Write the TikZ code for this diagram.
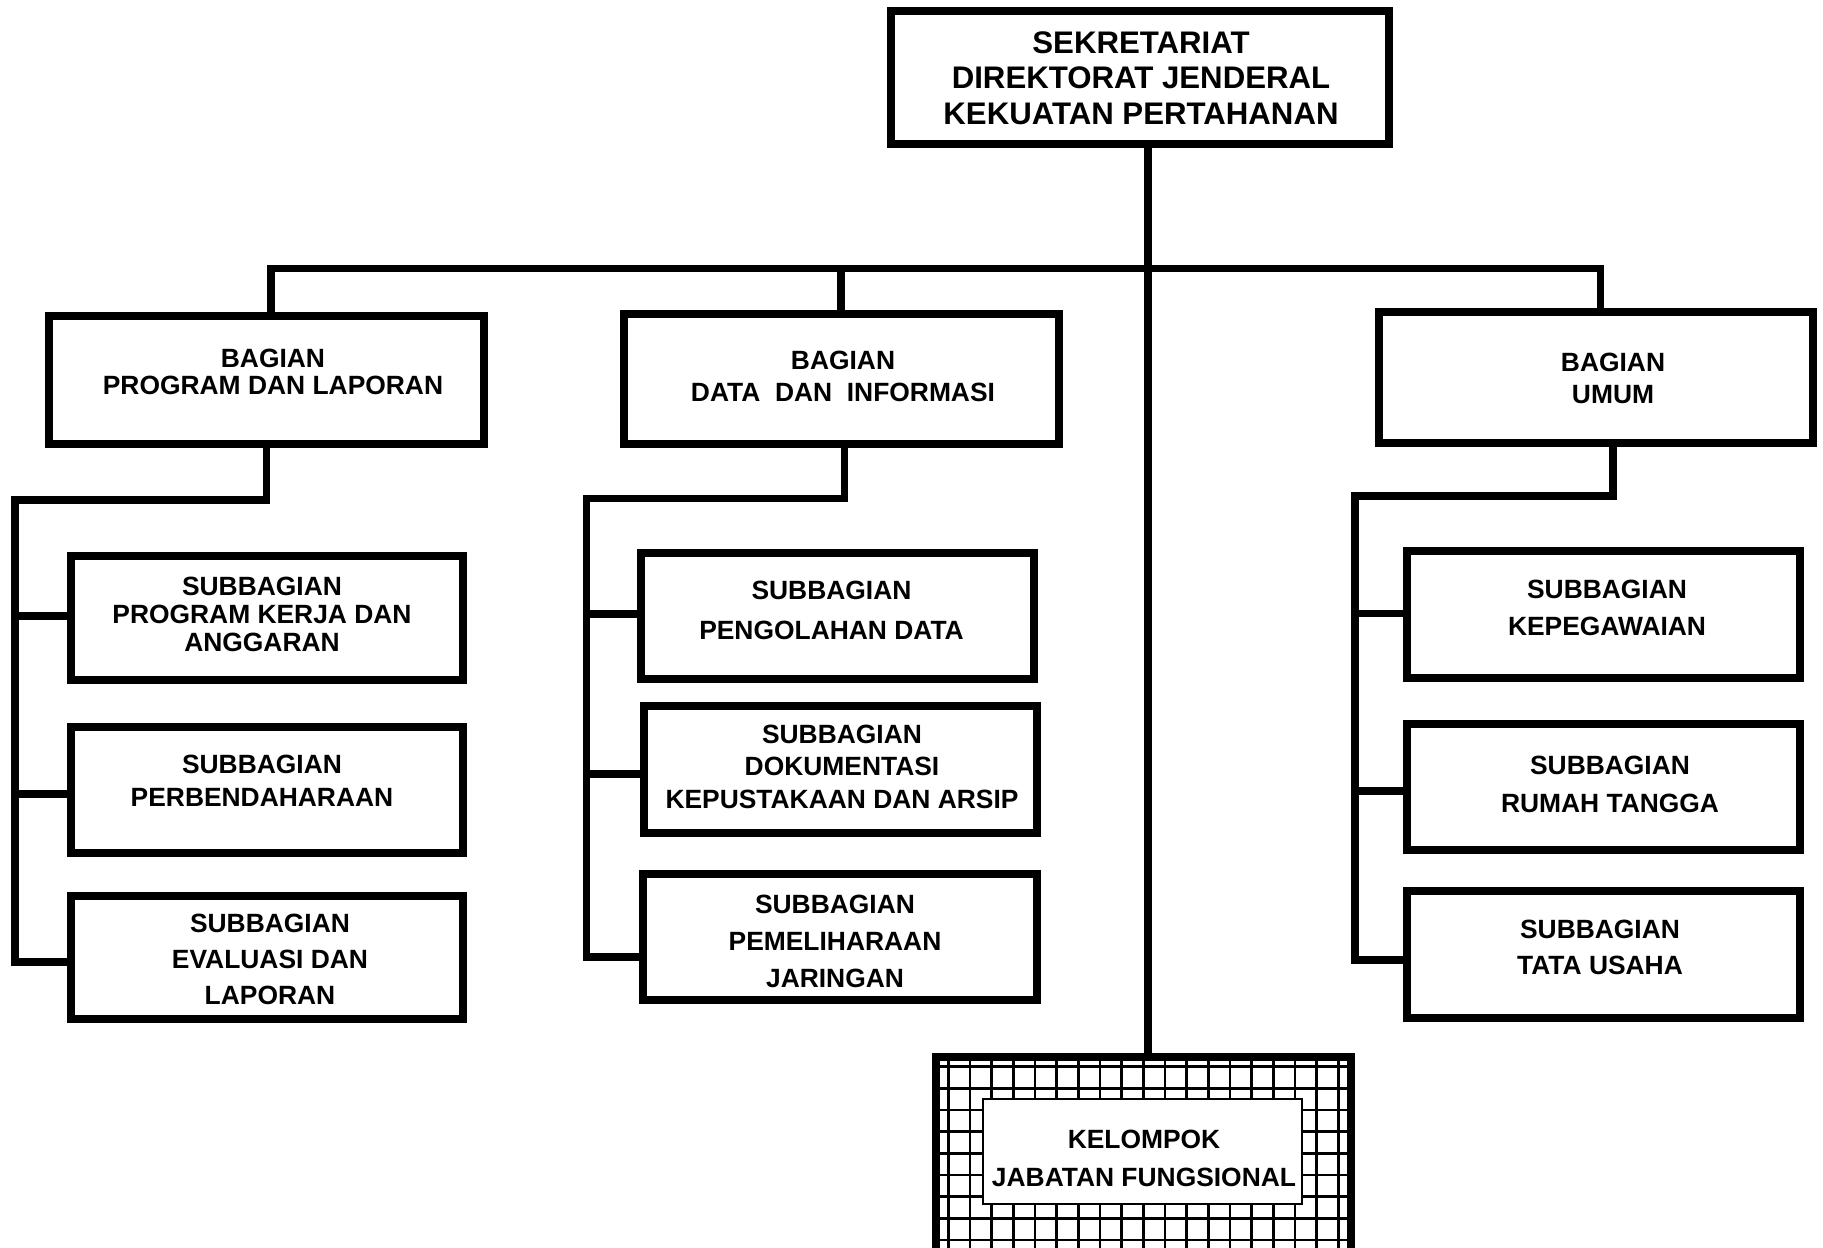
\documentclass[tikz,border=0pt]{standalone}
\usepackage{fontspec}
\setmainfont{Liberation Sans}
\begin{document}
\begin{tikzpicture}[x=0.5pt,y=-0.5pt,
  lw/.style={line width=3.8pt},
  bx/.style 2 args={draw, lw, rectangle, inner sep=0pt, outer sep=0pt,
     minimum width=#1*0.5pt, minimum height=#2*0.5pt},
  tx/.style={font=\fontsize{13.2}{#1}\selectfont\bfseries, align=center, inner sep=0pt},
  ttx/.style={font=\fontsize{15.6}{17.8}\selectfont\bfseries, align=center, inner sep=0pt},
  conn/.style={lw, line join=miter},
  gl/.style={line width=1.3pt}
]
\clip (0,0) rectangle (1823,1247);

% top box
\node[bx={498.4}{133.4}] (T) at (1140,77.5) {};
\node[ttx] (Tt) at (1141,78) {SEKRETARIAT\\DIREKTORAT JENDERAL\\KEKUATAN PERTAHANAN};

% bagian boxes
\node[bx={435.4}{128.4}] (B1) at (266.5,380) {};
\node[tx=13.5] (B1t) at (273,371.5) {BAGIAN\\PROGRAM DAN LAPORAN};
\node[bx={435.4}{130.4}] (B2) at (841.5,379) {};
\node[tx=16] (B2t) at (843,376) {BAGIAN\\DATA\ \ DAN\ \ INFORMASI};
\node[bx={434.4}{131.4}] (B3) at (1596,377.5) {};
\node[tx=16] (B3t) at (1613,378) {BAGIAN\\UMUM};

% left sub boxes
\node[bx={392.4}{124.4}] (S11) at (267,618) {};
\node[tx=14] (S11t) at (262,614.5) {SUBBAGIAN\\PROGRAM KERJA DAN\\ANGGARAN};
\node[bx={392.4}{126.4}] (S12) at (267,790) {};
\node[tx=16.5] (S12t) at (262,781) {SUBBAGIAN\\PERBENDAHARAAN};
\node[bx={392.4}{123.4}] (S13) at (267,957.5) {};
\node[tx=18] (S13t) at (270,959.5) {SUBBAGIAN\\EVALUASI DAN\\LAPORAN};

% middle sub boxes
\node[bx={393.4}{126.4}] (S21) at (837.5,616) {};
\node[tx=19.75] (S21t) at (831.5,610.5) {SUBBAGIAN\\PENGOLAHAN DATA};
\node[bx={393.4}{127.4}] (S22) at (840.5,769.5) {};
\node[tx=16.25] (S22t) at (842,766.5) {SUBBAGIAN\\DOKUMENTASI\\KEPUSTAKAAN DAN ARSIP};
\node[bx={394.4}{126.4}] (S23) at (840,937) {};
\node[tx=18.5] (S23t) at (835,941) {SUBBAGIAN\\PEMELIHARAAN\\JARINGAN};

% right sub boxes
\node[bx={393.4}{127.4}] (S31) at (1603.5,614.5) {};
\node[tx=18.85] (S31t) at (1607,608) {SUBBAGIAN\\KEPEGAWAIAN};
\node[bx={393.4}{126.4}] (S32) at (1603.5,787) {};
\node[tx=18.65] (S32t) at (1610,784.5) {SUBBAGIAN\\RUMAH TANGGA};
\node[bx={393.4}{127.4}] (S33) at (1603.5,954.5) {};
\node[tx=18] (S33t) at (1600,947) {SUBBAGIAN\\TATA USAHA};

% grid box (jabatan fungsional)
\node[bx={415.4}{201.4}] (G) at (1143.5,1157.5) {};
\begin{scope}
  \clip (G.south west) rectangle (G.north east);
  \foreach \i in {0,...,18}
    \draw[gl] (948.3+21.667*\i,1040) -- (948.3+21.667*\i,1270);
  \foreach \j in {0,...,9}
    \draw[gl] (920,1066.7+21.667*\j) -- (1370,1066.7+21.667*\j);
\end{scope}
\node[draw, fill=white, line width=1pt, inner sep=0pt, outer sep=0pt,
      minimum width=159.5pt, minimum height=52.5pt] (K) at (1142.5,1151.5) {};
\node[tx=19] (Kt) at (1144,1158) {KELOMPOK\\JABATAN FUNGSIONAL};

% connector coordinates
\coordinate (stem) at (1148,0);
\coordinate (bus) at (0,268.5);
\coordinate (dL) at (271,0);
\coordinate (dM) at (841,0);
\coordinate (dR) at (1600.5,0);
\coordinate (hL) at (15,500);
\coordinate (hM) at (586.5,498.5);
\coordinate (hR) at (1355,496);
\coordinate (dM2) at (844.5,0);
\coordinate (dR2) at (1613,0);
\coordinate (e11) at ([yshift=1pt]S11.west);
\coordinate (e12) at ([yshift=-2pt]S12.west);
\coordinate (e13) at ([yshift=-2.25pt]S13.west);
\coordinate (e21) at ([yshift=1pt]S21.west);
\coordinate (e22) at ([yshift=-2.25pt]S22.west);
\coordinate (e23) at ([yshift=-10pt]S23.west);
\coordinate (e31) at ([yshift=0.5pt]S31.west);
\coordinate (e32) at ([yshift=-2pt]S32.west);
\coordinate (e33) at ([yshift=-2.75pt]S33.west);

% main stem and bus
\draw[conn] (stem |- T.south) -- (stem |- G.north);
\draw[conn] (dL |- B1.north) -- (dL |- bus) -- (dR |- bus) -- (dR |- B3.north);
\draw[conn] (dM |- bus) -- (dM |- B2.north);

% left column
\draw[conn] (B1.south) -- (B1.south |- hL) -| (hL |- e13) -- (e13);
\draw[conn] (hL |- e11) -- (e11);
\draw[conn] (hL |- e12) -- (e12);

% middle column
\draw[conn] (dM2 |- B2.south) -- (dM2 |- hM) -| (hM |- e23) -- (e23);
\draw[conn] (hM |- e21) -- (e21);
\draw[conn] (hM |- e22) -- (e22);

% right column
\draw[conn] (dR2 |- B3.south) -- (dR2 |- hR) -| (hR |- e33) -- (e33);
\draw[conn] (hR |- e31) -- (e31);
\draw[conn] (hR |- e32) -- (e32);
\end{tikzpicture}
\end{document}
